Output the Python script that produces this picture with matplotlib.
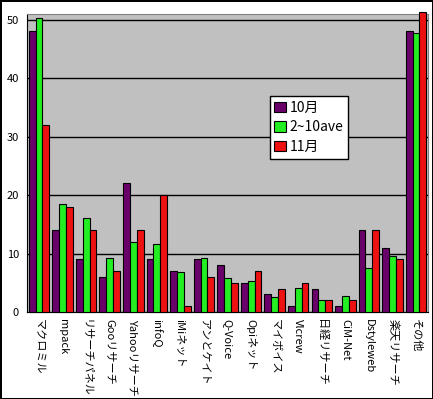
import numpy as np
import matplotlib
matplotlib.use('Agg')
import matplotlib.pyplot as plt

plt.rcParams['font.family'] = ['Noto Sans CJK JP', 'DejaVu Sans']

# survey sites and counts
sites = ['マクロミル', 'mpack', 'リサーチパネル', 'Gooリサーチ', 'Yahooリサーチ', 'infoQ',
         'iMiネット', 'アンとケイト', 'Q-Voice', 'Opiネット', 'マイボイス', 'Vlcrew',
         '日経リサーチ', 'CiM-Net', 'Dstyleweb', '楽天リサーチ', 'その他']
oct_vals = [48, 14, 9, 6, 22, 9, 7, 9, 8, 5, 3, 1, 4, 1, 14, 11, 48]
ave_vals = [50.3, 18.4, 16.1, 9.2, 12.0, 11.6, 6.8, 9.2, 5.8, 5.3, 2.5, 4.1, 2.0, 2.8, 7.5, 9.5, 47.8]
nov_vals = [32, 18, 14, 7, 14, 20, 1, 6, 5, 7, 4, 5, 2, 2, 14, 9, 51.4]
series_names = ['10月', '2~10ave', '11月']
colors = ['#6a006a', '#22ee22', '#ee1111']
yticks = [0, 10, 20, 30, 40, 50]

fig = plt.figure(figsize=(4.33, 3.99), dpi=100, edgecolor='black', linewidth=2)
ax = fig.add_axes([0.063, 0.218, 0.925, 0.747])
ax.set_facecolor('#c0c0c0')

x = np.arange(len(sites)) + 0.5
width = 0.29
for k, vals in enumerate([oct_vals, ave_vals, nov_vals]):
    ax.bar(x + (k - 1) * width, vals, width, color=colors[k], edgecolor='black',
           linewidth=0.8, label=series_names[k], zorder=3, clip_on=False)

ax.set_xlim(0, len(sites))
ax.set_ylim(0, 51)
ax.set_yticks(yticks)
ax.yaxis.grid(True, color='black', linewidth=1)
ax.set_axisbelow(True)
ax.tick_params(axis='y', length=0, labelsize=8, pad=6)
ax.tick_params(axis='x', length=0, pad=5)
ax.set_xticks(x)
ax.set_xticklabels(sites, rotation=270, fontsize=8, va='top', ha='center')

for side in ['top', 'right']:
    ax.spines[side].set_color('#808080')
for side in ['left', 'bottom']:
    ax.spines[side].set_color('black')

leg = ax.legend(loc='upper left', bbox_to_anchor=(0.605, 0.725), fontsize=10,
                frameon=True, fancybox=False, edgecolor='black', framealpha=1,
                handlelength=0.8, handleheight=0.8, handletextpad=0.3,
                borderpad=0.35, labelspacing=0.4, borderaxespad=0)
leg.get_frame().set_linewidth(1)
leg.get_frame().set_facecolor('white')

plt.savefig('out.png', dpi=100)
plt.close()
